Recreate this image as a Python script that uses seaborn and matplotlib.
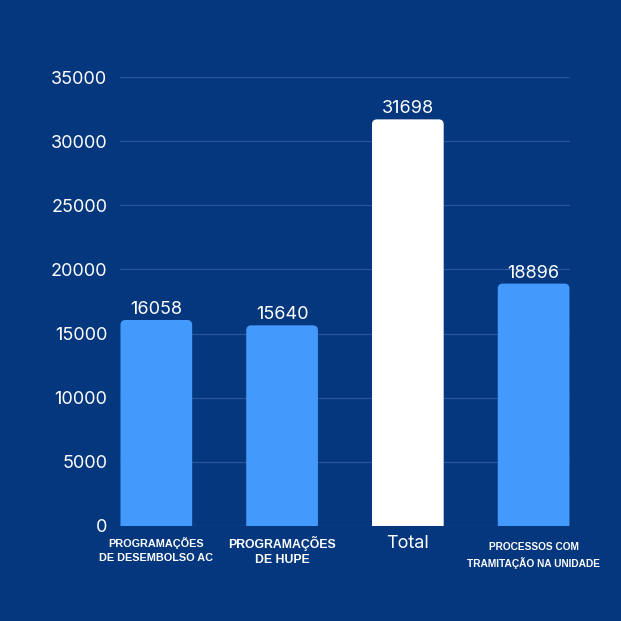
import matplotlib.pyplot as plt
import matplotlib.transforms as mtransforms
from matplotlib.patches import FancyBboxPatch
import pandas as pd
import seaborn as sns

categories = [
    "PROGRAMAÇÕES\nDE DESEMBOLSO AC",
    "PROGRAMAÇÕES\nDE HUPE",
    "Total",
    "PROCESSOS COM\nTRAMITAÇÃO NA UNIDADE",
]
values = [16058, 15640, 31698, 18896]
bar_colors = ["#4499fd", "#4499fd", "#ffffff", "#4499fd"]
yticks = [0, 5000, 10000, 15000, 20000, 25000, 30000, 35000]

bg = "#05377f"
grid_col = "#2a5597"

sns.set_style("white")
plt.rcParams["font.family"] = ["Inter", "DejaVu Sans"]

df = pd.DataFrame({"category": categories, "value": values})

fig = plt.figure(figsize=(6.21, 6.21), dpi=100)
fig.set_facecolor(bg)
ax = fig.add_axes([0.193, 0.153, 0.725, 0.723])
ax.set_facecolor(bg)

sns.barplot(df, x="category", y="value", hue="category", palette=bar_colors,
            width=0.57, saturation=1, legend=False, ax=ax)

# swap plain rectangles for rounded-top ones
px_per_x = 0.725 * 621 / 3.58
px_per_y = 0.723 * 621 / 35000
r = 5 / px_per_x
aspect = px_per_x / px_per_y
for p in list(ax.patches):
    x, y = p.get_x(), p.get_y()
    w, h = p.get_width(), p.get_height()
    fb = FancyBboxPatch((x, y - 800), w, h + 800,
                        boxstyle=f"round,pad=0,rounding_size={r}",
                        mutation_aspect=aspect, facecolor=p.get_facecolor(),
                        edgecolor="none", zorder=5)
    p.remove()
    ax.add_patch(fb)
    ax.text(x + w / 2, h + 150, f"{int(round(h))}", ha="center", va="bottom",
            color="white", fontsize=13, zorder=6)

ax.set_xlim(-0.29, 3.29)
ax.set_ylim(0, 35000)
ax.set_yticks(yticks)
ax.set_yticklabels([str(t) for t in yticks], color="white", fontsize=13)
ax.tick_params(axis="y", length=0, pad=9)
ax.set_xticks([])
ax.set_xlabel("")
ax.set_ylabel("")
for s in ax.spines.values():
    s.set_visible(False)
ax.set_axisbelow(True)
ax.yaxis.grid(True, color=grid_col, linewidth=0.9)

trans = mtransforms.blended_transform_factory(ax.transData, ax.transAxes)
label_y = [-0.025, -0.022, -0.04, -0.036]
label_size = [7.8, 8.8, 13, 7.3]
label_ls = [1.45, 1.4, 1.0, 1.5]
for i, lab in enumerate(categories):
    if lab == "Total":
        ax.text(i, label_y[i], lab, transform=trans, ha="center", va="center",
                color="white", fontsize=label_size[i])
    else:
        ax.text(i, label_y[i], lab, transform=trans, ha="center", va="top",
                color="white", fontsize=label_size[i], fontweight="bold",
                family=["Liberation Sans", "DejaVu Sans"],
                linespacing=label_ls[i])

fig.savefig("out.png", facecolor=bg)
